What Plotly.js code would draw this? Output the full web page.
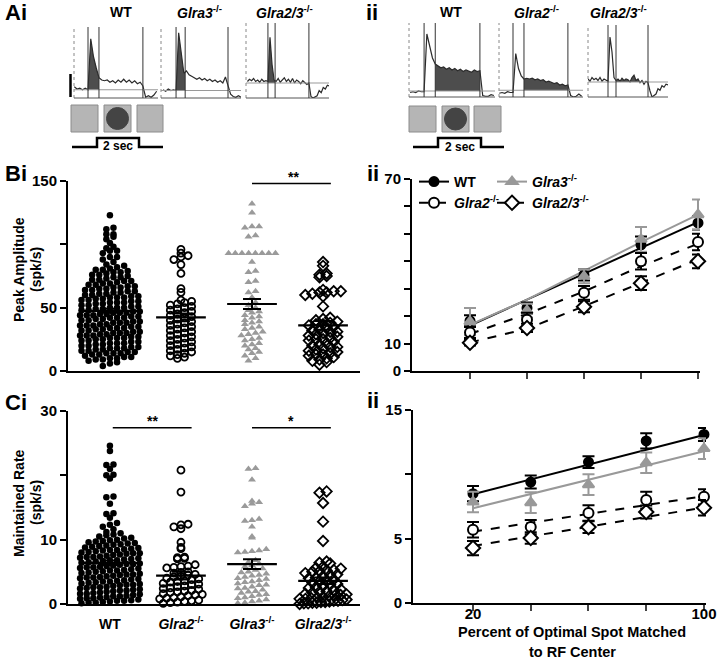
<!DOCTYPE html>
<html>
<head>
<meta charset="utf-8">
<script src="https://cdn.plot.ly/plotly-3.0.1.min.js"></script>
<style>body{margin:0;background:#fff}#chart{width:720px;height:660px}</style>
</head>
<body>
<div id="chart"></div>
<script>
const FONT = 'Liberation Sans, Arial, sans-serif';
const fx = p => p / 720;
const fy = p => 1 - p / 660;

// ---- B/C i : per-cell values (peak amplitude, maintained rate), spk/s
const groups = ['WT', '<i>Glra2</i><sup>-/-</sup>', '<i>Glra3</i><sup>-/-</sup>', '<i>Glra2/3</i><sup>-/-</sup>'];

const peakWT = [4,6,7,8,9,9,10,10,11,11,12,13,13,14,14,14,15,15,16,16,17,17,18,18,18,19,19,20,20,21,21,22,22,22,23,23,24,24,
  25,25,26,26,26,27,27,28,28,28,29,29,30,30,30,31,31,32,32,33,33,34,34,34,35,35,36,36,36,37,37,38,38,38,39,39,40,40,
  41,41,42,42,42,43,43,44,44,44,45,45,46,46,46,47,47,48,48,49,49,50,50,50,51,51,52,52,53,53,54,54,54,55,55,56,56,
  57,57,58,58,58,59,59,60,60,61,61,62,62,63,63,64,64,65,65,66,66,67,67,68,68,69,69,70,71,71,72,72,73,74,74,75,76,76,
  77,78,78,79,80,80,81,82,83,84,86,88,90,90,93,95,95,97,98,101,104,106,108,108,112,113,123];
const peakG2 = [10,11,12,13,14,15,16,17,18,19,20,21,22,23,24,25,26,27,28,29,30,31,32,33,34,35,36,37,38,39,40,41,42,
  43,44,45,46,47,48,49,50,51,52,53,54,55,56,62,65,77,84,88,90,91,93,96];
const peakG3 = [8,10,12,14,15,17,18,20,21,22,24,25,26,28,29,30,31,33,34,35,37,38,39,40,42,43,44,46,47,48,50,52,54,
  58,62,63,70,71,78,79,86,93,93,93,93,93,93,93,93,106,107,113,114,114,125,132];
const peakG23 = [5,7,8,9,10,11,12,13,13,14,15,16,17,18,19,19,20,21,22,23,24,25,25,26,27,28,29,30,31,31,32,33,34,35,
  36,37,37,38,39,40,41,42,51,59,60,61,62,62,63,63,64,74,75,76,77,83,86];
const peakMean = [47.5, 42.3, 52.9, 36.0];
const peakSem = [1.6, 3.0, 4.0, 3.5];

const rateWT = [0.1,0.2,0.2,0.3,0.4,0.5,0.5,0.6,0.7,0.8,0.9,0.9,1.0,1.1,1.2,1.2,1.3,1.4,1.5,1.6,1.6,1.7,1.8,1.9,
  2.0,2.1,2.1,2.2,2.3,2.4,2.5,2.6,2.6,2.7,2.8,2.9,3.0,3.0,3.1,3.2,3.3,3.4,3.5,3.5,3.6,3.7,3.8,3.9,
  4.0,4.1,4.1,4.2,4.3,4.4,4.5,4.6,4.6,4.7,4.8,4.9,5.0,5.1,5.2,5.2,5.3,5.4,5.5,5.6,5.7,5.7,5.8,5.9,
  6.0,6.1,6.2,6.2,6.3,6.4,6.5,6.6,6.7,6.8,6.8,6.9,7.0,7.1,7.2,7.3,7.3,7.4,7.5,7.6,7.7,7.8,7.9,7.9,
  8.0,8.1,8.2,8.3,8.4,8.4,8.5,8.6,8.7,8.8,8.9,9.0,9.1,9.2,9.3,9.4,9.5,9.6,9.7,9.8,9.9,
  10.0,10.2,10.3,10.5,10.7,10.8,11.0,11.2,11.6,12.0,12.3,12.6,13.4,14.0,14.1,15.6,16.6,16.7,19.5,20.0,20.1,21.0,21.6,21.7,23.8,24.6];
const rateG2 = [0.1,0.2,0.3,0.4,0.5,0.6,0.8,0.9,1.0,1.1,1.3,1.4,1.5,1.6,1.8,1.9,2.0,2.1,2.3,2.4,2.5,2.7,2.8,3.0,3.1,
  3.2,3.4,3.5,3.6,3.8,3.9,4.0,4.2,4.3,4.5,4.6,4.8,4.9,5.0,5.6,5.7,5.8,5.9,6.1,7.0,7.1,7.2,7.3,8.6,8.8,9.6,
  11.7,12.0,12.3,12.4,17.4,20.8];
const rateG3 = [0.1,0.2,0.4,0.5,0.7,0.9,1.0,1.2,1.4,1.5,1.7,1.9,2.0,2.2,2.4,2.5,2.7,2.9,3.0,3.2,3.4,3.5,3.7,3.9,
  4.0,4.2,4.4,4.5,4.7,4.9,5.0,5.3,5.5,5.8,6.0,6.3,6.5,6.8,8.0,8.1,8.2,8.3,8.5,10.3,10.5,12.0,12.9,13.0,13.2,
  15.2,15.6,15.8,16.0,19.3,21.0,21.1];
const rateG23 = [0.0,0.1,0.1,0.2,0.2,0.3,0.3,0.4,0.5,0.5,0.6,0.7,0.8,0.8,0.9,1.0,1.1,1.2,1.3,1.4,1.5,1.6,1.8,1.9,
  2.0,2.2,2.3,2.5,2.6,2.8,3.0,3.1,3.3,3.5,3.6,3.8,4.0,4.1,4.3,4.5,4.6,4.8,5.0,5.1,5.2,5.3,5.5,5.6,5.8,
  6.3,6.4,6.6,9.8,12.8,15.7,17.3,17.5];
const rateMean = [6.4, 4.4, 6.2, 3.6];
const rateSem = [0.35, 0.6, 0.75, 0.5];

// ---- B/C ii : response vs spot size
const spot = [20, 40, 60, 80, 100];
const spotPeakWT = [18.3, 23, 35, 46, 54],   semPeakWT = [2, 2, 2, 3, 2.5],     fitPeakWT = [16.6, 26.0, 35.5, 44.9, 54.3];
const spotPeakG3 = [18, 22, 34.5, 48, 57],   semPeakG3 = [5, 2.5, 2.5, 4.5, 5.5], fitPeakG3 = [16.8, 26, 36.5, 47, 57];
const spotPeakG2 = [14, 18.7, 28.5, 40, 47], semPeakG2 = [2, 2.5, 2.5, 3, 3],     fitPeakG2 = [13.5, 20.8, 29, 38.2, 46.4];
const spotPeakG23 = [10.3, 15.7, 23.4, 32, 40], semPeakG23 = [1, 1.5, 2, 2.5, 2.5], fitPeakG23 = [10.4, 15.4, 23.6, 32.1, 40.7];

const spotRateWT = [8.5, 9.4, 10.95, 12.6, 13.1], semRateWT = [0.6, 0.5, 0.45, 0.6, 0.5], fitRateWT = [8.45, 9.6, 10.75, 11.9, 13.05];
const spotRateG3 = [7.85, 7.8, 9.2, 10.9, 12.0], semRateG3 = [0.8, 0.8, 0.8, 0.8, 0.8], fitRateG3 = [7.36, 8.47, 9.58, 10.69, 11.8];
const spotRateG2 = [5.7, 5.9, 7.0, 8.0, 8.25],   semRateG2 = [0.6, 0.55, 0.6, 0.65, 0.6], fitRateG2 = [5.54, 6.23, 6.92, 7.62, 8.31];
const spotRateG23 = [4.27, 5.05, 5.9, 7.07, 7.4], semRateG23 = [0.55, 0.45, 0.45, 0.5, 0.6], fitRateG23 = [4.43, 5.18, 5.93, 6.68, 7.43];

// ---- A : example PSTHs (0.1 s bins)
const aiWT = [15,12,13,11,13,11,79,55,40,27,24,23,24,21,23,20,24,21,25,21,24,20,23,19,21,16,1,3,1,4,9];
const aiG3 = [11,9,12,10,11,10,87,60,33,36,31,29,27,25,27,24,26,23,25,22,24,21,23,20,28,16,5,2,1,3,1];
const aiG23 = [22,25,23,26,22,24,21,25,22,23,22,81,45,24,22,26,21,24,27,22,25,21,26,20,24,22,19,23,21,18,20,
  2,0,1,3,10,7,14,12,17,16];
const iiWT = [6,7,6,8,7,7,84,68,52,44,41,39,40,37,39,36,38,35,37,34,36,35,33,36,34,35,2,1,1,3,2];
const iiG2 = [5,6,5,7,6,6,58,38,28,24,25,24,25,23,24,22,23,20,21,19,18,19,16,17,15,16,2,0,1,4,1];
const iiG23 = [24,21,26,23,25,22,26,21,24,22,21,80,60,26,22,24,21,25,22,24,23,20,26,29,22,24,19,22,17,21,19,
  8,0,2,4,11,9,15,13,17,16];
const psthStart = [-0.5, -0.5, -1.0, -0.5, -0.5, -1.0];
const psthBase = [11, 10, 20, 8, 9, 20];
const psthMarks = [[0, 0.4, 2], [0, 0.35, 2], [0, 0.35, 2], [0, 0.4, 2], [0, 0.4, 2], [0, 0.4, 2]];
const psthTitles = ['WT', '<i>Glra3</i><sup>-/-</sup>', '<i>Glra2/3</i><sup>-/-</sup>',
  'WT', '<i>Glra2</i><sup>-/-</sup>', '<i>Glra2/3</i><sup>-/-</sup>'];
const psths = [aiWT, aiG3, aiG23, iiWT, iiG2, iiG23];

// pixel boxes for the small PSTH panels
const miniBox = [
  {x: [74, 158], y: [27, 98], range: [-0.51, 2.55], title: 121},
  {x: [161, 241], y: [27, 98], range: [-0.58, 2.5], title: 199},
  {x: [246, 329], y: [23, 98], range: [-1.07, 2.98], title: 284},
  {x: [409, 495], y: [23, 97], range: [-0.54, 2.54], title: 451},
  {x: [499, 583], y: [23, 97], range: [-0.51, 2.55], title: 536},
  {x: [588, 668], y: [25, 97], range: [-1.0, 3.0], title: 618}
];

const traces = [];
const shapes = [];
const annotations = [];

function ann(text, x, y, size, extra) {
  annotations.push(Object.assign({
    text, x: fx(x), y: fy(y), xref: 'paper', yref: 'paper', showarrow: false,
    xanchor: 'center', yanchor: 'middle',
    font: {family: FONT, size, color: 'black', weight: 'bold'}
  }, extra || {}));
}

// prism-like column scatter
function swarm(vals, cat, bin, step, maxHalf) {
  const rows = {};
  vals.forEach(v => { const k = Math.floor(v / bin + 1e-9); (rows[k] = rows[k] || []).push(v); });
  const xs = [], ys = [];
  Object.keys(rows).forEach(k => {
    const r = rows[k], n = r.length;
    const s = n > 1 ? Math.min(step, 2 * maxHalf / (n - 1)) : 0;
    r.forEach((v, i) => { xs.push(cat + (i - (n - 1) / 2) * s); ys.push(v); });
  });
  return {x: xs, y: ys};
}

const dotStyle = [
  {symbol: 'circle', size: 6.5, color: 'black'},
  {symbol: 'circle-open', size: 7, color: 'black', line: {width: 1.8}},
  {symbol: 'triangle-up', size: 7, color: '#9a9a9a'},
  {symbol: 'diamond-open', size: 8, color: 'black', line: {width: 1.8}}
];
const meanHalf = [0.43, 0.35, 0.35, 0.35];

function dotPanel(sets, means, sems, bin, xa, ya) {
  sets.forEach((vals, g) => {
    const p = swarm(vals, g, bin, 0.1, g === 0 ? 0.42 : 0.33);
    traces.push({type: 'scatter', mode: 'markers', x: p.x, y: p.y, xaxis: xa, yaxis: ya,
      marker: dotStyle[g], cliponaxis: false, showlegend: false, hoverinfo: 'skip'});
  });
  means.forEach((m, g) => {
    traces.push({type: 'scatter', mode: 'lines', x: [g - meanHalf[g], g + meanHalf[g]], y: [m, m],
      xaxis: xa, yaxis: ya, line: {color: 'black', width: 2.2}, showlegend: false, hoverinfo: 'skip'});
    traces.push({type: 'scatter', mode: 'markers', x: [g], y: [m], xaxis: xa, yaxis: ya,
      marker: {size: 1, opacity: 0},
      error_y: {type: 'data', array: [sems[g]], color: 'black', thickness: 2, width: 9},
      showlegend: false, hoverinfo: 'skip'});
  });
}

dotPanel([peakWT, peakG2, peakG3, peakG23], peakMean, peakSem, 4, 'x', 'y');
dotPanel([rateWT, rateG2, rateG3, rateG23], rateMean, rateSem, 0.8, 'x3', 'y3');

// significance bars
function sig(xa, ya, x0, x1, yv) {
  shapes.push({type: 'line', xref: xa, yref: ya, x0, x1, y0: yv, y1: yv, line: {color: 'black', width: 1.5}});
}
sig('x', 'y', 2.0, 3.11, 148);
sig('x3', 'y3', 0.04, 1.15, 27.4);
sig('x3', 'y3', 2.0, 3.11, 27.4);
ann('**', 293, 177, 14);
ann('**', 152, 421, 14);
ann('*', 291, 421, 14);

// spot-size panels
const spotStyle = {
  WT: {symbol: 'circle', color: 'black', fill: 'black', dash: 'solid', size: 9, name: 'WT', legend: 'legend'},
  G3: {symbol: 'triangle-up', color: '#999', fill: '#999', dash: 'solid', size: 10, name: '<i>Glra3</i><sup>-/-</sup>', legend: 'legend2'},
  G2: {symbol: 'circle', color: 'black', fill: 'white', dash: 'dash', size: 10, name: '<i>Glra2</i><sup>-/-</sup>', legend: 'legend'},
  G23: {symbol: 'diamond', color: 'black', fill: 'white', dash: 'dash', size: 11, name: '<i>Glra2/3</i><sup>-/-</sup>', legend: 'legend2'}
};

function spotPanel(series, xa, ya) {
  series.forEach(s => {
    const st = spotStyle[s.key];
    traces.push({type: 'scatter', mode: 'lines', x: spot, y: s.fit, xaxis: xa, yaxis: ya,
      line: {color: st.color, width: 2, dash: st.dash}, showlegend: false, hoverinfo: 'skip'});
  });
  series.forEach(s => {
    const st = spotStyle[s.key];
    traces.push({type: 'scatter', mode: 'markers', x: spot, y: s.mean, xaxis: xa, yaxis: ya,
      marker: {symbol: st.symbol, size: st.size, color: st.fill, line: {color: st.color, width: 2}},
      error_y: {type: 'data', array: s.sem, color: st.color, thickness: 2, width: 6},
      cliponaxis: false, showlegend: false, hoverinfo: 'skip'});
  });
}

spotPanel([
  {key: 'WT', mean: spotPeakWT, sem: semPeakWT, fit: fitPeakWT},
  {key: 'G3', mean: spotPeakG3, sem: semPeakG3, fit: fitPeakG3},
  {key: 'G2', mean: spotPeakG2, sem: semPeakG2, fit: fitPeakG2},
  {key: 'G23', mean: spotPeakG23, sem: semPeakG23, fit: fitPeakG23}
], 'x2', 'y2');
spotPanel([
  {key: 'WT', mean: spotRateWT, sem: semRateWT, fit: fitRateWT},
  {key: 'G3', mean: spotRateG3, sem: semRateG3, fit: fitRateG3},
  {key: 'G2', mean: spotRateG2, sem: semRateG2, fit: fitRateG2},
  {key: 'G23', mean: spotRateG23, sem: semRateG23, fit: fitRateG23}
], 'x4', 'y4');

// legend entries
['WT', 'G2', 'G3', 'G23'].forEach(k => {
  const st = spotStyle[k];
  traces.push({type: 'scatter', mode: 'lines+markers', x: [null], y: [null], xaxis: 'x2', yaxis: 'y2',
    name: st.name, legend: st.legend,
    line: {color: st.color, width: 2, dash: st.dash},
    marker: {symbol: st.symbol, size: st.size, color: st.fill, line: {color: st.color, width: 2}}});
});

// label-only axis for the spot-size ticks in Cii (sits a little higher than plotly's default)
traces.push({type: 'scatter', mode: 'markers', x: [null], y: [null], xaxis: 'x11', yaxis: 'y4',
  showlegend: false, hoverinfo: 'skip'});

// PSTH panels
function interp(t, ts, vs) {
  for (let i = 0; i < ts.length - 1; i++) {
    if (t >= ts[i] - 1e-9 && t <= ts[i + 1] + 1e-9) {
      const f = (t - ts[i]) / (ts[i + 1] - ts[i]);
      return vs[i] + f * (vs[i + 1] - vs[i]);
    }
  }
  return vs[vs.length - 1];
}

const layoutAxes = {};
psths.forEach((vals, i) => {
  const n = i + 5, xa = 'x' + n, ya = 'y' + n, box = miniBox[i];
  const ts = vals.map((_, k) => +(psthStart[i] + k * 0.1).toFixed(2));
  const base = psthBase[i], marks = psthMarks[i];
  const a = i < 3 ? marks[0] : marks[1];
  const b = i < 3 ? marks[1] : marks[2];
  const sx = [a], sy = [Math.max(interp(a, ts, vals), base)];
  ts.forEach((t, k) => { if (t > a + 1e-6 && t < b - 1e-6) { sx.push(t); sy.push(Math.max(vals[k], base)); } });
  sx.push(b); sy.push(Math.max(interp(b, ts, vals), base));
  traces.push({type: 'scatter', mode: 'lines', x: sx.concat([b, a]), y: sy.concat([base, base]),
    xaxis: xa, yaxis: ya, fill: 'toself', fillcolor: '#4d4d4d', line: {width: 0},
    showlegend: false, hoverinfo: 'skip'});
  traces.push({type: 'scatter', mode: 'lines', x: ts, y: vals, xaxis: xa, yaxis: ya,
    line: {color: '#2b2b2b', width: 1.2}, showlegend: false, hoverinfo: 'skip'});
  layoutAxes['xaxis' + n] = {domain: [fx(box.x[0]), fx(box.x[1])], range: box.range, anchor: ya, visible: false};
  layoutAxes['yaxis' + n] = {domain: [fy(box.y[1]), fy(box.y[0])], range: [0, (box.y[1] - box.y[0]) / 0.75], anchor: xa, visible: false};
  shapes.push({type: 'line', xref: xa + ' domain', yref: ya + ' domain', x0: 0, x1: 0, y0: 0, y1: 1,
    line: {color: '#888', width: 1, dash: 'dot'}});
  shapes.push({type: 'line', xref: xa + ' domain', yref: ya + ' domain', x0: 0, x1: 1, y0: 0, y1: 0,
    line: {color: '#555', width: 1}});
  shapes.push({type: 'line', xref: xa + ' domain', yref: ya, x0: 0, x1: 1, y0: base, y1: base,
    line: {color: '#999', width: 1}});
  marks.forEach(m => shapes.push({type: 'line', xref: xa, yref: ya + ' domain', x0: m, x1: m, y0: 0, y1: 1,
    line: {color: '#333', width: 1}}));
  ann(psthTitles[i], box.title, 12, 14);
});

// scale bar
shapes.push({type: 'line', xref: 'paper', yref: 'paper', x0: fx(70.5), x1: fx(70.5), y0: fy(97), y1: fy(74),
  line: {color: 'black', width: 2.5}});

// stimulus icons and timing step
function stimulus(sq, circle, step, label) {
  sq.forEach(s => shapes.push({type: 'rect', xref: 'paper', yref: 'paper',
    x0: fx(s[0]), x1: fx(s[1]), y0: fy(s[3]), y1: fy(s[2]),
    fillcolor: '#b5b5b5', line: {color: '#8c8c8c', width: 1}}));
  shapes.push({type: 'circle', xref: 'paper', yref: 'paper',
    x0: fx(circle[0] - circle[2]), x1: fx(circle[0] + circle[2]),
    y0: fy(circle[1] + circle[2]), y1: fy(circle[1] - circle[2]),
    fillcolor: '#444', line: {color: '#444', width: 1}});
  const path = step.map((p, k) => (k ? 'L' : 'M') + fx(p[0]).toFixed(5) + ',' + fy(p[1]).toFixed(5)).join(' ');
  shapes.push({type: 'path', xref: 'paper', yref: 'paper', path, line: {color: 'black', width: 2.5}});
  ann('2 sec', label[0], label[1], 12);
}
stimulus([[71, 98, 105, 132], [104, 131, 105, 132], [137, 163, 105, 132]], [117.5, 118.5, 11],
  [[72, 147], [97, 147], [97, 138], [139, 138], [139, 147], [163, 147]], [118, 146]);
stimulus([[409, 436, 106, 132], [442, 469, 106, 132], [474, 501, 106, 132]], [455.5, 119, 11],
  [[413, 147], [438, 147], [438, 138], [481, 138], [481, 147], [504, 147]], [460, 147]);

// panel letters and axis titles
ann('Ai', 3, 13, 22, {xanchor: 'left'});
ann('ii', 364, 13, 22, {xanchor: 'left'});
ann('Bi', 3, 173, 22, {xanchor: 'left'});
ann('ii', 365, 173, 22, {xanchor: 'left'});
ann('Ci', 3, 402, 22, {xanchor: 'left'});
ann('ii', 365, 400, 22, {xanchor: 'left'});
ann('Peak Amplitude', 19, 270, 14, {textangle: -90});
ann('(spk/s)', 36, 270, 14, {textangle: -90});
ann('Maintained Rate', 19, 503, 14, {textangle: -90});
ann('(spk/s)', 36, 503, 14, {textangle: -90});
ann('Percent of Optimal Spot Matched', 572, 632, 14.5);
ann('to RF Center', 572, 652, 14.5);

const tickFont = {family: FONT, size: 15, color: 'black', weight: 'bold'};
const yBase = {showline: true, linewidth: 2, linecolor: 'black', ticks: 'outside', ticklen: 6, tickwidth: 2,
  tickcolor: 'black', showgrid: false, zeroline: false, tickfont: tickFont, fixedrange: true};
const xBase = {showline: true, linewidth: 2, linecolor: 'black', showgrid: false, zeroline: false,
  tickfont: tickFont, fixedrange: true};

const layout = Object.assign({
  width: 720, height: 660,
  margin: {l: 0, r: 0, t: 0, b: 0},
  paper_bgcolor: 'white', plot_bgcolor: 'rgba(0,0,0,0)',
  font: {family: FONT, color: 'black'},
  xaxis: Object.assign({}, xBase, {domain: [fx(68), fx(360)], range: [-0.59, 3.52], anchor: 'y', ticks: '', showticklabels: false}),
  yaxis: Object.assign({}, yBase, {domain: [fy(371), fy(181)], range: [0, 150], anchor: 'x',
    tickvals: [0, 50, 100, 150], ticktext: ['0', '50', '', '150']}),
  xaxis3: Object.assign({}, xBase, {domain: [fx(68), fx(360)], range: [-0.59, 3.52], anchor: 'y3', ticks: '',
    tickvals: [0, 1, 2, 3], ticktext: groups, tickfont: Object.assign({}, tickFont, {size: 14}), ticklabelstandoff: 6}),
  yaxis3: Object.assign({}, yBase, {domain: [fy(604), fy(411)], range: [0, 30], anchor: 'x3',
    tickvals: [0, 10, 20, 30], ticktext: ['0', '10', '', '30']}),
  xaxis2: Object.assign({}, xBase, {domain: [fx(412), fx(700)], range: [-0.35, 100.7], anchor: 'y2',
    ticks: 'outside', ticklen: 6, tickwidth: 2, tickvals: spot, showticklabels: false}),
  yaxis2: Object.assign({}, yBase, {domain: [fy(371), fy(179)], range: [0, 70], anchor: 'x2',
    tickvals: [0, 10, 20, 30, 40, 50, 60, 70], ticktext: ['0', '10', '', '', '', '', '', '70']}),
  xaxis4: Object.assign({}, xBase, {domain: [fx(413), fx(706)], range: [-0.78, 100.7], anchor: 'y4',
    ticks: 'outside', ticklen: 6, tickwidth: 2, tickvals: spot, showticklabels: false}),
  xaxis11: {domain: [fx(413), fx(706)], range: [-0.78, 100.7], overlaying: 'x4', anchor: 'free', position: fy(602.5),
    showline: false, showgrid: false, zeroline: false, ticks: '', tickvals: spot, ticktext: ['20', '', '', '', '100'],
    tickfont: tickFont, fixedrange: true},
  yaxis4: Object.assign({}, yBase, {domain: [fy(603), fy(410)], range: [0, 15], anchor: 'x4',
    tickvals: [0, 5, 10, 15], ticktext: ['0', '5', '', '15']}),
  legend: {x: fx(414), y: fy(166), xanchor: 'left', yanchor: 'top', bgcolor: 'rgba(0,0,0,0)',
    font: {family: FONT, size: 14, color: 'black', weight: 'bold'}, tracegroupgap: 0, itemwidth: 30},
  legend2: {x: fx(492), y: fy(166), xanchor: 'left', yanchor: 'top', bgcolor: 'rgba(0,0,0,0)',
    font: {family: FONT, size: 14, color: 'black', weight: 'bold'}, tracegroupgap: 0, itemwidth: 30},
  shapes, annotations,
  showlegend: true
}, layoutAxes);

Plotly.newPlot('chart', traces, layout, {displayModeBar: false, staticPlot: true});
</script>
</body>
</html>
